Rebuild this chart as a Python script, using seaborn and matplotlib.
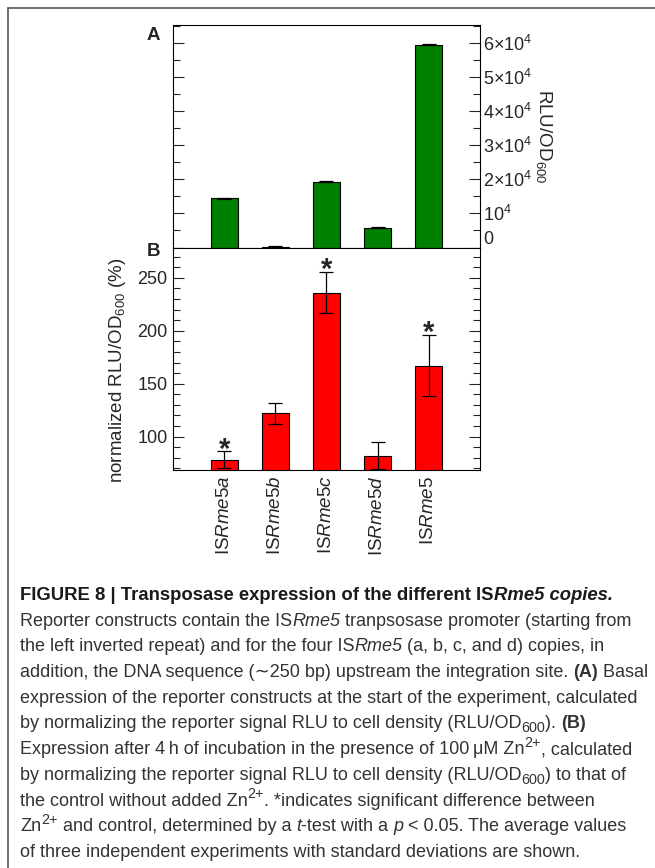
import matplotlib
matplotlib.use("Agg")
import matplotlib.pyplot as plt
import matplotlib.font_manager as fm
from matplotlib.lines import Line2D
from matplotlib.ticker import MultipleLocator, FixedLocator
import numpy as np
import pandas as pd
import seaborn as sns

# ---------------------------------------------------------------- data
constructs = ["ISRme5a", "ISRme5b", "ISRme5c", "ISRme5d", "ISRme5"]
construct_labels = [r"IS$\mathit{Rme5a}$", r"IS$\mathit{Rme5b}$", r"IS$\mathit{Rme5c}$",
                    r"IS$\mathit{Rme5d}$", r"IS$\mathit{Rme5}$"]

# (A) basal expression, RLU/OD600
basal_mean = [14400, 250, 19300, 5800, 59400]
basal_sd = [150, 60, 200, 120, 200]

# (B) expression with 100 uM Zn2+, normalised to control (%)
zinc_mean = [78, 122, 236, 82, 167]
zinc_sd = [8, 9.6, 19.5, 12.5, 29]
significant = [True, False, True, False, True]

basal_ticks = [0, 10000, 20000, 30000, 40000, 50000, 60000]
basal_ticklabels = ["0", r"$10^{4}$", r"$2{\times}10^{4}$", r"$3{\times}10^{4}$",
                    r"$4{\times}10^{4}$", r"$5{\times}10^{4}$", r"$6{\times}10^{4}$"]
zinc_ticks = [100, 150, 200, 250]

# ---------------------------------------------------------------- style
sns.set_style("white")


def has_font(name):
    try:
        fm.findfont(fm.FontProperties(family=name), fallback_to_default=False)
        return True
    except Exception:
        return False


PLOT_FONT = "Liberation Sans" if has_font("Liberation Sans") else "DejaVu Sans"
CAPTION_FONT = PLOT_FONT

plt.rcParams["font.family"] = [PLOT_FONT, "DejaVu Sans"]
plt.rcParams["mathtext.fontset"] = "custom"
plt.rcParams["mathtext.rm"] = PLOT_FONT
plt.rcParams["mathtext.it"] = PLOT_FONT + ":italic"
plt.rcParams["mathtext.bf"] = PLOT_FONT + ":bold"
plt.rcParams["axes.linewidth"] = 0.8

W, H = 655, 868
fig = plt.figure(figsize=(W / 100, H / 100), dpi=100)


def ax_rect(left, top, right, bottom):
    return [left / W, 1 - bottom / H, (right - left) / W, (bottom - top) / H]


axA = fig.add_axes(ax_rect(173, 25, 480, 247.5))
axB = fig.add_axes(ax_rect(173, 247.5, 480, 470))

GREEN = "#008000"
RED = "#FF0000"
TICK_SIZE = 13
xpos = np.arange(len(constructs))

# ---------------------------------------------------------------- panel A
dfA = pd.DataFrame({"construct": constructs, "rlu": basal_mean})
sns.barplot(data=dfA, x="construct", y="rlu", color=GREEN, saturation=1,
            width=0.53, edgecolor="black", linewidth=0.8, errorbar=None, ax=axA)
axA.errorbar(xpos, basal_mean, yerr=basal_sd, fmt="none", ecolor="black",
             elinewidth=0.9, capsize=4.7, capthick=0.9)
axA.set_xlim(-1, 5)
axA.set_ylim(0, 65200)
axA.set_xlabel("")
axA.yaxis.set_major_locator(FixedLocator(basal_ticks))
axA.set_yticklabels(basal_ticklabels)
axA.yaxis.set_minor_locator(MultipleLocator(5000))
axA.tick_params(axis="x", bottom=False, labelbottom=False)
axA.tick_params(axis="y", which="both", direction="in", left=True, right=True,
                labelleft=False, labelright=True, width=0.8, labelsize=TICK_SIZE, pad=2)
axA.tick_params(axis="y", which="major", length=8)
axA.tick_params(axis="y", which="minor", length=5)
axA.get_yticklabels()[0].set_verticalalignment("bottom")
axA.yaxis.set_label_position("right")
axA.set_ylabel(r"RLU/OD$_{600}$", rotation=270, fontsize=13.5)
axA.yaxis.label.set(va="center", ha="center")
axA.yaxis.set_label_coords(1.21, 0.5)

# ---------------------------------------------------------------- panel B
dfB = pd.DataFrame({"construct": constructs, "norm": zinc_mean})
sns.barplot(data=dfB, x="construct", y="norm", color=RED, saturation=1,
            width=0.53, edgecolor="black", linewidth=0.8, errorbar=None, ax=axB)
axB.errorbar(xpos, zinc_mean, yerr=zinc_sd, fmt="none", ecolor="black",
             elinewidth=0.9, capsize=4.7, capthick=0.9)
axB.set_xlim(-1, 5)
axB.set_ylim(68.5, 278.7)
axB.set_xlabel("")
axB.yaxis.set_major_locator(FixedLocator(zinc_ticks))
axB.yaxis.set_minor_locator(MultipleLocator(10))
axB.set_xticks(xpos)
axB.set_xticklabels(construct_labels, rotation=90, fontsize=TICK_SIZE + 0.5)
axB.tick_params(axis="x", length=0, pad=4)
axB.tick_params(axis="y", which="both", direction="in", left=True, right=True,
                labelleft=True, labelright=False, width=0.8, labelsize=TICK_SIZE, pad=4)
axB.tick_params(axis="y", which="major", length=8)
axB.tick_params(axis="y", which="minor", length=5)
axB.set_ylabel(r"normalized RLU/OD$_{600}$ (%)", fontsize=13.5)
axB.yaxis.label.set(va="center", ha="center")
axB.yaxis.set_label_coords(-0.182, 0.45)

for i, (m, s, sig) in enumerate(zip(zinc_mean, zinc_sd, significant)):
    if sig:
        axB.annotate("*", xy=(i, m + s), xytext=(0, -4.5), textcoords="offset points",
                     ha="center", va="baseline", fontsize=21, fontweight="bold")

for ax in (axA, axB):
    for sp in ax.spines.values():
        sp.set_color("black")
        sp.set_linewidth(0.8)

fig.text(153 / W, 1 - 35 / H, "A", fontsize=13.5, fontweight="bold", ha="center", va="center")
fig.text(153 / W, 1 - 252 / H, "B", fontsize=13.5, fontweight="bold", ha="center", va="center")

# ---------------------------------------------------------------- frame
fig.add_artist(Line2D([8 / W, 1], [1 - 8 / H, 1 - 8 / H], transform=fig.transFigure,
                      color="#555555", lw=1.2))
fig.add_artist(Line2D([8 / W, 8 / W], [1 - 8 / H, 0], transform=fig.transFigure,
                      color="#555555", lw=1.2))

# ---------------------------------------------------------------- caption
CAP_SIZE = 13.0
CAP_FAMILY = [CAPTION_FONT, "DejaVu Sans"]
renderer = fig.canvas.get_renderer()


def seg_props(style, size):
    props = dict(family=CAP_FAMILY, size=size, weight="normal", style="normal")
    if "b" in style:
        props["weight"] = "bold"
    if "i" in style:
        props["style"] = "italic"
    return props


def text_width(s, props):
    t1 = fig.text(0, 0, "|" + s + "|", **props)
    t2 = fig.text(0, 0, "||", **props)
    w = t1.get_window_extent(renderer).width - t2.get_window_extent(renderer).width
    t1.remove()
    t2.remove()
    return w


def rich_line(x_px, baseline_px, segments, color, size):
    x = x_px
    for s, style in segments:
        seg_size = size
        dy = 0.0
        if style in ("sub", "sup"):
            seg_size = size * 0.8
            dy = -0.22 * size * 100 / 72 if style == "sub" else 0.42 * size * 100 / 72
            props = seg_props("r", seg_size)
        else:
            props = seg_props(style, seg_size)
        fig.text(x / W, 1 - (baseline_px - dy) / H, s, color=color,
                 ha="left", va="baseline", **props)
        x += text_width(s, props)


caption_lines = [
    [("FIGURE 8 | Transposase expression of the different IS", "b"), ("Rme5 copies.", "bi")],
    [("Reporter constructs contain the IS", "r"), ("Rme5", "i"),
     (" tranpsosase promoter (starting from", "r")],
    [("the left inverted repeat) and for the four IS", "r"), ("Rme5", "i"),
     (" (a, b, c, and d) copies, in", "r")],
    [("addition, the DNA sequence (\u223c250 bp) upstream the integration site. ", "r"),
     ("(A)", "b"), (" Basal", "r")],
    [("expression of the reporter constructs at the start of the experiment, calculated", "r")],
    [("by normalizing the reporter signal RLU to cell density (RLU/OD", "r"), ("600", "sub"),
     ("). ", "r"), ("(B)", "b")],
    [("Expression after 4\u2009h of incubation in the presence of 100\u2009\u03bcM Zn", "r"),
     ("2+", "sup"), (", calculated", "r")],
    [("by normalizing the reporter signal RLU to cell density (RLU/OD", "r"), ("600", "sub"),
     (") to that of", "r")],
    [("the control without added Zn", "r"), ("2+", "sup"),
     (". *indicates significant difference between", "r")],
    [("Zn", "r"), ("2+", "sup"), (" and control, determined by a ", "r"), ("t", "i"),
     ("-test with a ", "r"), ("p", "i"), (" < 0.05. The average values", "r")],
    [("of three independent experiments with standard deviations are shown.", "r")],
]

for k, segs in enumerate(caption_lines):
    col = "#1a1a1a" if k == 0 else "#333333"
    rich_line(20, 600 + 25.7 * k, segs, col, 13.35 if k == 0 else CAP_SIZE)

fig.savefig("out.png", dpi=100)
